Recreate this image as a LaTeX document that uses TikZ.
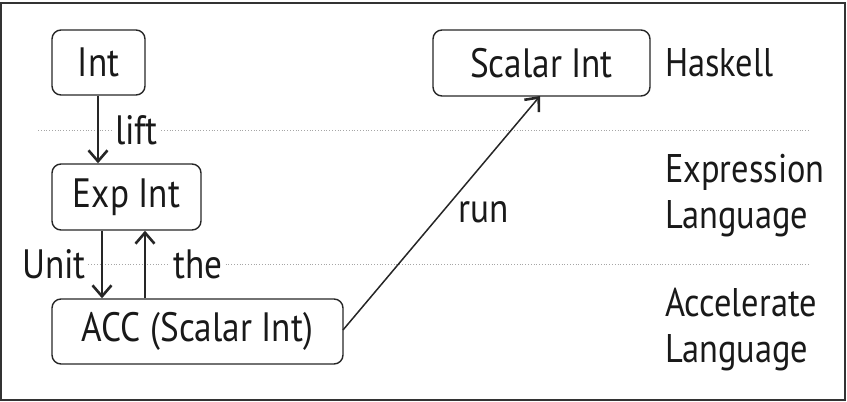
\documentclass[tikz,border=0pt]{standalone}
\usepackage{fontspec}
\setmainfont[FakeStretch=0.86]{PT Sans}
\usetikzlibrary{arrows.meta}
\begin{document}
\begin{tikzpicture}[x=1pt,y=-1pt,
  box/.style={draw=black!85,line width=1.4pt,rounded corners=9pt,inner sep=0pt},
  lbl/.style={font=\fontsize{41}{46}\selectfont,text=black!90,inner sep=0pt,anchor=west},
  side/.style={font=\fontsize{40}{46}\selectfont,text=black!90,inner sep=0pt,anchor=west,align=left},
  arr/.style={draw=black!85,line width=1.5pt,-{Straight Barb[length=11pt,width=19pt,line width=2.6pt]}},
  sep/.style={draw=black!35,line width=0.8pt,dotted}]
\useasboundingbox (0,0) rectangle (847,402);
\draw[draw=black!80,line width=1.5pt] (1,3) rectangle (845,400);
% separators
\draw[sep] (38,130) -- (810,130);
\draw[sep] (38,264) -- (810,264);
% boxes
\node[box,minimum width=93pt,minimum height=65pt] (int) at (98.5,62.5) {};
\node[lbl,anchor=center] at (int.center) {Int};
\node[box,minimum width=149pt,minimum height=66pt] (exp) at (126.5,197) {};
\node[lbl,anchor=center] at (exp.center) {Exp Int};
\node[box,minimum width=291pt,minimum height=65pt] (acc) at (197.5,331.5) {};
\node[lbl,anchor=center] at (acc.center) {ACC (Scalar Int)};
\node[box,minimum width=217pt,minimum height=66pt] (sc) at (541.5,63) {};
\node[lbl,anchor=center] at (sc.center) {Scalar Int};
% arrows
\coordinate (a1) at (98,0);
\draw[arr] (int.south -| a1) -- (exp.north -| a1);
\coordinate (u1) at (102,0);
\draw[arr] (exp.south -| u1) -- (acc.north -| u1);
\coordinate (t1) at (145,0);
\draw[arr] (acc.north -| t1) -- (exp.south -| t1);
\coordinate (r1) at (343,330); \coordinate (r2) at (540,96);
\draw[arr] (r1) -- (r2);
% labels
\node[lbl,fill=white,inner xsep=3pt] (lift) at (112,130) {lift};
\node[lbl,fill=white,inner xsep=2pt] (unit) at (20,264) {Unit};
\node[lbl,fill=white,inner xsep=3pt] (the) at (170,264) {the};
\node[lbl] (run) at (458,212) {run};
\node[side] (hs) at (665,63) {Haskell};
\node[side] (el) at (665,196) {Expression\\Language};
\node[side] (al) at (665,330) {Accelerate\\Language};
\end{tikzpicture}
\end{document}
